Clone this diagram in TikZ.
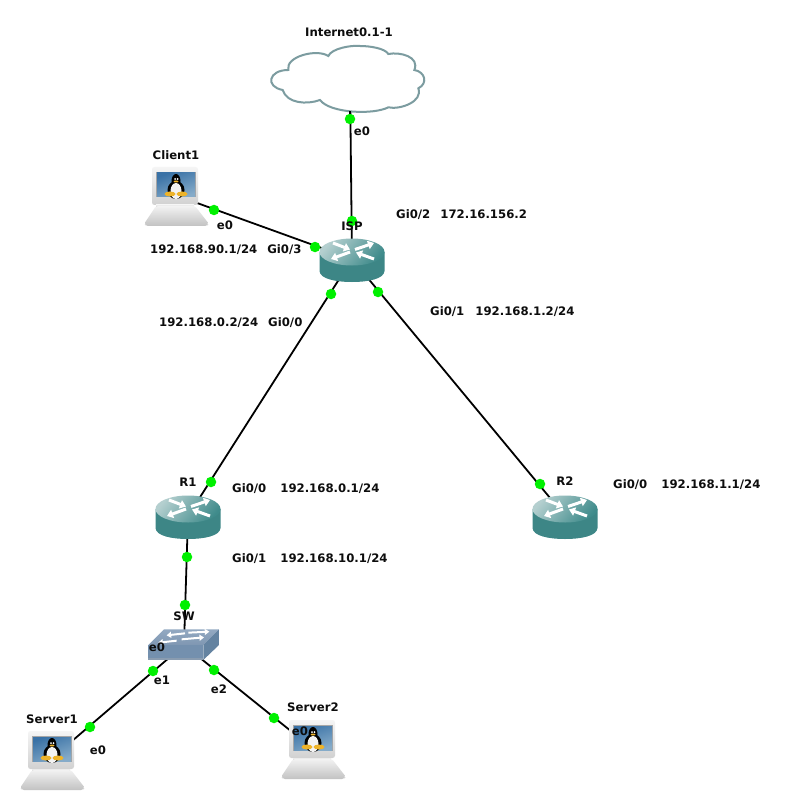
\documentclass[tikz,border=0pt]{standalone}
\usepackage{fontspec}
\setmainfont{DejaVu Sans}
\usetikzlibrary{arrows.meta}
\definecolor{tealtop}{HTML}{B4CFCF}
\definecolor{tealmid}{HTML}{3F8B8B}
\definecolor{teallow}{HTML}{3D8686}
\definecolor{cloudline}{HTML}{7C9CA0}
\definecolor{portgreen}{HTML}{00F000}
\definecolor{swtop}{HTML}{93A9C2}
\definecolor{swtoplow}{HTML}{7F97B2}
\definecolor{swfront}{HTML}{7490AE}
\definecolor{swside}{HTML}{6483A1}
\definecolor{swstrip}{HTML}{8A9CB0}
\definecolor{scrleft}{HTML}{3A72A6}
\definecolor{scrright}{HTML}{85ABC9}
\definecolor{pengfoot}{HTML}{EDB32A}
\tikzset{
  x=1pt,y=-1pt,
  lab/.style={font=\fontsize{11.7}{14}\selectfont\bfseries,inner sep=0pt,text=black!95},
  labw/.style={lab,anchor=west},
  link/.style={draw=black,line width=1.8pt},
  port/.style={circle,fill=portgreen,draw=none,minimum size=10.5pt,inner sep=0pt},
  rarrow/.style={draw=white,line width=3pt,-{Triangle[length=6pt,width=8.5pt]}},
  router/.pic={
    \fill[teallow] (-32.5,-7) -- (-32.5,12) .. controls (-32,20) and (-16,23) .. (0,23) .. controls (16,23) and (32,20) .. (32.5,12) -- (32.5,-7) -- cycle;
    \shade[top color=tealtop,bottom color=tealmid,shading angle=50] (0,-7) ellipse [x radius=32.5,y radius=13.5];
    \draw[rarrow] (-19,-16) -- (-2,-9.5);
    \draw[rarrow] (3,-9.5) -- (22,-16);
    \draw[rarrow] (-2,-7) -- (-21,0);
    \draw[rarrow] (22,0) -- (4,-6.5);
  },
  laptop/.pic={
    \shade[top color=white!96!black,bottom color=white!82!black,rounded corners=2.5pt] (-23,-28) rectangle (23,10);
    \shade[top color=white!92!black,bottom color=white!78!black] (-19,10) rectangle (19,13);
    \shade[top color=white!95!black,bottom color=white!76!black,rounded corners=2pt] (-19,11) -- (20,11) -- (34,29) -- (32,31) -- (-29,31) -- (-31,29) -- cycle;
    \fill[white!65!black] (-19.5,-23) rectangle (20.5,2.5);
    \shade[left color=scrleft,right color=scrright,shading angle=20] (-18,-22) rectangle (20,2);
    \fill[black] (1,-14) ellipse [x radius=4.5,y radius=7];
    \fill[black] (1,-5) ellipse [x radius=8.5,y radius=9];
    \fill[white!95!black] (1,-4) ellipse [x radius=5.5,y radius=8];
    \fill[white] (0,-16) circle [radius=1];
    \fill[white] (2.5,-16) circle [radius=1];
    \fill[pengfoot] (1,-13.5) ellipse [x radius=2.5,y radius=1];
    \fill[pengfoot] (-5,-1) ellipse [x radius=5.5,y radius=2.5];
    \fill[pengfoot] (7,-1) ellipse [x radius=5.5,y radius=2.5];
  },
  sbarrow/.style={draw=white,line width=2pt,-{Triangle[length=4.5pt,width=6pt]}},
  swpic/.pic={
    \begin{scope}[shift={(-184,-645)},shift={(10,600)},x=0.3333pt,y=-0.3333pt]
      \shade[top color=swtop,bottom color=swtoplow] (462,88) -- (627,88) -- (580,135) -- (415,135) -- cycle;
      \fill[swfront] (415,135) rectangle (580,180);
      \fill[swside] (580,135) -- (627,88) -- (627,135) -- (580,180) -- cycle;
      \fill[swstrip] (415,174) rectangle (580,180);
      \draw[sbarrow] (525,100) -- (470,106);
      \draw[sbarrow] (535,98) -- (598,95);
      \draw[sbarrow] (500,122) -- (445,128);
      \draw[sbarrow] (515,118) -- (582,112);
    \end{scope}
  }
}
\begin{document}
\begin{tikzpicture}
\useasboundingbox (0,0) rectangle (784,810);
\fill[white] (0,0) rectangle (784,810);
% device centres
\coordinate (inet) at (350,80);
\coordinate (isp) at (352,259);
\coordinate (client) at (175,195);
\coordinate (rone) at (188,516);
\coordinate (rtwo) at (565,516);
\coordinate (sw) at (184,645);
\coordinate (srvone) at (51,759);
\coordinate (srvtwo) at (312,748);
% connectors
\draw[link] (inet) -- (isp);
\draw[link] (client) -- (isp);
\draw[link] (isp) -- (rone);
\draw[link] (isp) -- (rtwo);
\draw[link] (rone) -- (sw);
\draw[link] (sw) -- (srvone);
\draw[link] (sw) -- (srvtwo);
% cloud
\begin{scope}[shift={(260,20)},x=0.3333pt,y=-0.3333pt]
  \filldraw[fill=white,draw=cloudline,line width=2pt] (205,108)
    .. controls (215,85) and (275,75) .. (300,78)
    .. controls (330,78) and (375,85) .. (385,102)
    .. controls (420,95) and (480,110) .. (463,150)
    .. controls (495,155) and (505,190) .. (475,205)
    .. controls (490,245) and (420,270) .. (385,262)
    .. controls (340,285) and (210,280) .. (180,240)
    .. controls (140,255) and (80,250) .. (68,210)
    .. controls (15,200) and (25,150) .. (85,150)
    .. controls (75,110) and (170,85) .. (205,108) -- cycle;
\end{scope}
% devices
\pic at (isp) {router};
\pic at (rone) {router};
\pic at (rtwo) {router};
\pic at (client) {laptop};
\pic at (srvone) {laptop};
\pic at (srvtwo) {laptop};
\pic at (sw) {swpic};
% ports
\node[port] (p1) at (350,119) {};
\node[port] (p2) at (352,221) {};
\node[port] (p3) at (214,210) {};
\node[port] (p4) at (315,247) {};
\node[port] (p5) at (331,294) {};
\node[port] (p6) at (378,292) {};
\node[port] (p7) at (211,482) {};
\node[port] (p8) at (540,484) {};
\node[port] (p9) at (187,557) {};
\node[port] (p10) at (185,605) {};
\node[port] (p11) at (153,671) {};
\node[port] (p12) at (90,727) {};
\node[port] (p13) at (214,670) {};
\node[port] (p14) at (274,718) {};
\coordinate (cloudbase) at (350,111.5);
\draw[link] (cloudbase) -- (p1);
% labels
\node[lab] (l1) at (349,32) {Internet0.1-1};
\node[lab] (l2) at (176,155) {Client1};
\node[lab] (l3) at (352,226) {ISP};
\node[lab] (l4) at (362,131) {e0};
\node[lab] (l5) at (225,225) {e0};
\node[labw] (l6) at (396,215) {Gi0/2\hspace{10pt}172.16.156.2};
\node[labw] (l7) at (150,250) {192.168.90.1/24\hspace{10pt}Gi0/3};
\node[labw] (l8) at (159,323) {192.168.0.2/24\hspace{10pt}Gi0/0};
\node[labw] (l9) at (430,312) {Gi0/1\hspace{11pt}192.168.1.2/24};
\node[lab] (l10) at (188,482) {R1};
\node[labw] (l11) at (232,489) {Gi0/0\hspace{14pt}192.168.0.1/24};
\node[lab] (l12) at (565,481) {R2};
\node[labw] (l13) at (613,485) {Gi0/0\hspace{14pt}192.168.1.1/24};
\node[labw] (l14) at (232,559) {Gi0/1\hspace{14pt}192.168.10.1/24};
\node[lab] (l15) at (184,616) {SW};
\node[lab] (l16) at (157,647) {e0};
\node[lab] (l17) at (162,680) {e1};
\node[lab] (l18) at (219,689) {e2};
\node[lab] (l19) at (52,719) {Server1};
\node[lab] (l20) at (98,750) {e0};
\node[lab] (l21) at (313,707) {Server2};
\node[lab] (l22) at (300,731) {e0};
\end{tikzpicture}
\end{document}
